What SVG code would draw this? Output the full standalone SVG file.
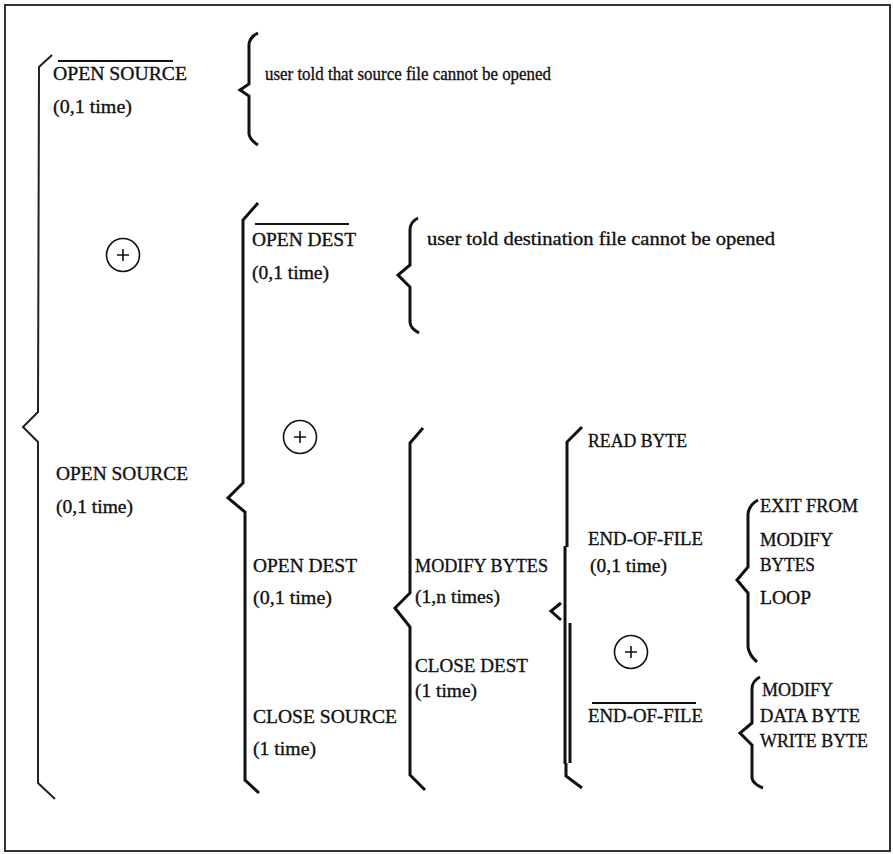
<svg xmlns="http://www.w3.org/2000/svg" width="893" height="854" viewBox="0 0 893 854">
<style>
text{font-family:"Liberation Serif","Times New Roman",serif;font-size:19.5px;fill:#111;stroke:#111;stroke-width:0.35}
.br{fill:none;stroke:#111;stroke-width:3;stroke-linejoin:miter;stroke-linecap:butt}
.thin{stroke-width:2;stroke:#222}
.ov{stroke:#111;stroke-width:2}
.op circle{fill:none;stroke:#111;stroke-width:1.6}
.op path{stroke:#111;stroke-width:1.6}
</style>
<rect x="5" y="5" width="885" height="846" fill="#fff" stroke="#333" stroke-width="2"/>
<g id="connectors">
<path class="br thin" d="M52,55 L39,67 L38,412 L23,427 L38,442 L38,783 L55,799"/>
<path class="br" stroke-width="2.5" d="M258,33 Q250,37 249,44 L249,84 L240,90 L249,96 L249,134 Q250,140 258,145"/>
<path class="br" d="M258,203 L243,220 L243,483 L228,498 L245,512 L245,780 L259,793"/>
<path class="br" d="M418,218 Q410,222 410,230 L410,265 L398,275 L410,287 L410,322 Q410,328 419,333"/>
<path class="br" d="M423,428 L410,443 L410,593 L395,608 L410,627 L410,775 L425,790"/>
<path class="br" d="M582,427 L567,442 L567,547"/>
<path class="br" stroke="#333" stroke-width="2" d="M565,546 L565,764"/>
<path class="br" stroke="#aaa" stroke-width="1.5" d="M570,623 L570,763"/>
<path class="br" stroke-width="2.5" d="M561,603 L551,611 L561,620"/>
<path class="br" d="M566,763 L566,776 L582,788"/>
<path class="br" d="M758,500 Q749,505 748,514 L748,567 L737,580 L748,593 L748,647 Q749,655 757,662"/>
<path class="br" d="M760,677 Q752,681 752,689 L752,723 L740,733 L752,745 L752,778 Q753,784 763,788"/>
</g>
<g id="op1" class="op"><circle cx="123" cy="255" r="16.5"/><path d="M117,255 H129 M123,249 V261"/></g>
<g id="op2" class="op"><circle cx="300" cy="437" r="16.5"/><path d="M294,437 H306 M300,431 V443"/></g>
<g id="op3" class="op"><circle cx="631" cy="652" r="16.5"/><path d="M625,652 H637 M631,646 V658"/></g>
<g id="not-open-source">
<line class="ov" x1="58" y1="61" x2="173" y2="61"/>
<text x="53" y="80" textLength="134" lengthAdjust="spacingAndGlyphs">OPEN SOURCE</text>
<text x="53" y="113" textLength="79" lengthAdjust="spacingAndGlyphs">(0,1 time)</text>
</g>
<g id="msg-source">
<text x="265" y="80" textLength="286" lengthAdjust="spacingAndGlyphs">user told that source file cannot be opened</text>
</g>
<g id="not-open-dest">
<line class="ov" x1="255" y1="224" x2="349" y2="224"/>
<text x="252" y="246" textLength="104" lengthAdjust="spacingAndGlyphs">OPEN DEST</text>
<text x="252" y="279" textLength="77" lengthAdjust="spacingAndGlyphs">(0,1 time)</text>
</g>
<g id="msg-dest">
<text x="427" y="245" textLength="348" lengthAdjust="spacingAndGlyphs">user told destination file cannot be opened</text>
</g>
<g id="open-source">
<text x="56" y="480" textLength="132" lengthAdjust="spacingAndGlyphs">OPEN SOURCE</text>
<text x="56" y="513" textLength="77" lengthAdjust="spacingAndGlyphs">(0,1 time)</text>
</g>
<g id="open-dest">
<text x="253" y="572" textLength="104" lengthAdjust="spacingAndGlyphs">OPEN DEST</text>
<text x="253" y="604" textLength="79" lengthAdjust="spacingAndGlyphs">(0,1 time)</text>
</g>
<g id="close-source">
<text x="253" y="723" textLength="144" lengthAdjust="spacingAndGlyphs">CLOSE SOURCE</text>
<text x="253" y="755" textLength="63" lengthAdjust="spacingAndGlyphs">(1 time)</text>
</g>
<g id="modify-bytes">
<text x="415" y="572" textLength="133" lengthAdjust="spacingAndGlyphs">MODIFY BYTES</text>
<text x="415" y="603" textLength="85" lengthAdjust="spacingAndGlyphs">(1,n times)</text>
</g>
<g id="close-dest">
<text x="415" y="672" textLength="113" lengthAdjust="spacingAndGlyphs">CLOSE DEST</text>
<text x="415" y="697" textLength="62" lengthAdjust="spacingAndGlyphs">(1 time)</text>
</g>
<g id="read-byte">
<text x="588" y="447" textLength="99" lengthAdjust="spacingAndGlyphs">READ BYTE</text>
</g>
<g id="end-of-file">
<text x="588" y="545" textLength="115" lengthAdjust="spacingAndGlyphs">END-OF-FILE</text>
<text x="590" y="572" textLength="77" lengthAdjust="spacingAndGlyphs">(0,1 time)</text>
</g>
<g id="not-end-of-file">
<line class="ov" x1="592" y1="703" x2="696" y2="703"/>
<text x="588" y="722" textLength="115" lengthAdjust="spacingAndGlyphs">END-OF-FILE</text>
</g>
<g id="exit-loop">
<text x="760" y="512" textLength="98" lengthAdjust="spacingAndGlyphs">EXIT FROM</text>
<text x="760" y="546" textLength="73" lengthAdjust="spacingAndGlyphs">MODIFY</text>
<text x="760" y="571" textLength="55" lengthAdjust="spacingAndGlyphs">BYTES</text>
<text x="760" y="604" textLength="51" lengthAdjust="spacingAndGlyphs">LOOP</text>
</g>
<g id="modify-data-byte">
<text x="762" y="696" textLength="71" lengthAdjust="spacingAndGlyphs">MODIFY</text>
<text x="760" y="722" textLength="100" lengthAdjust="spacingAndGlyphs">DATA BYTE</text>
</g>
<g id="write-byte">
<text x="760" y="747" textLength="108" lengthAdjust="spacingAndGlyphs">WRITE BYTE</text>
</g>
</svg>
